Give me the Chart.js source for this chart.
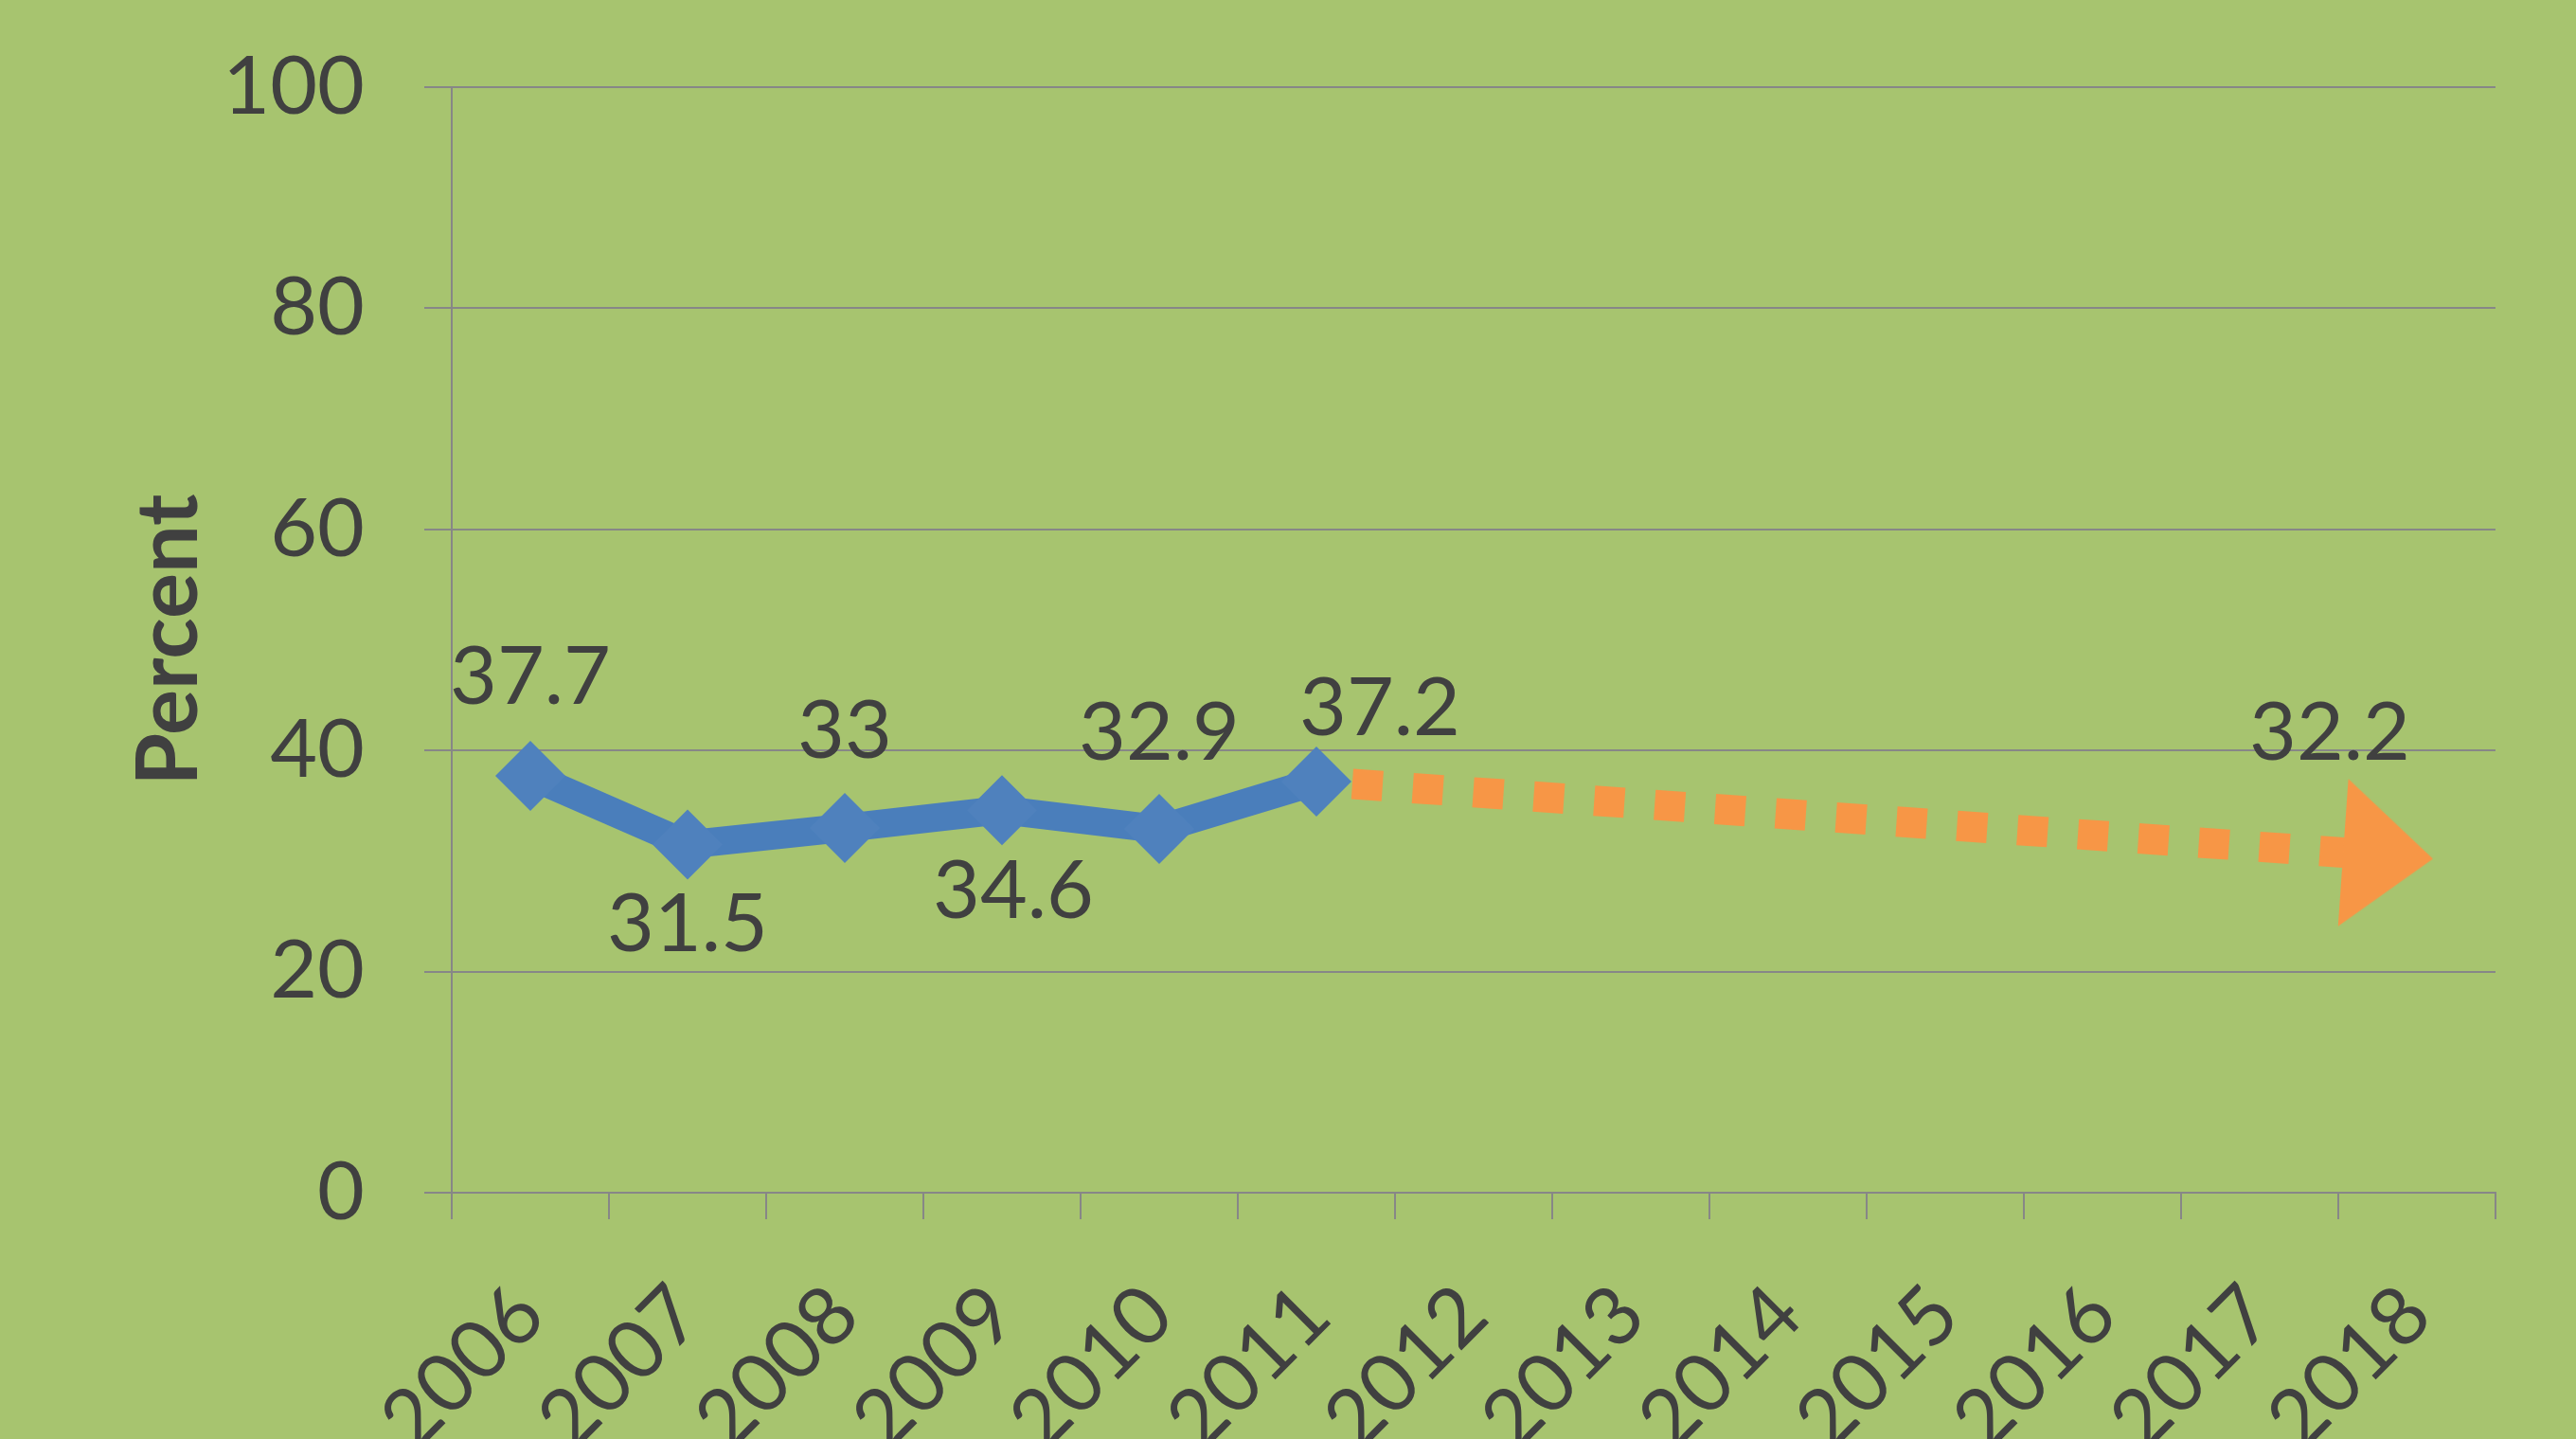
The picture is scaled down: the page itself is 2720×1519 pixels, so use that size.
<!DOCTYPE html>
<html>
<head>
<meta charset="utf-8">
<script src="https://cdn.jsdelivr.net/npm/chart.js@4.4.1/dist/chart.umd.min.js"></script>
<style>
  html, body { margin: 0; padding: 0; background: #a7c46f; }
  canvas { display: block; }
</style>
</head>
<body>
<canvas id="chart" width="2720" height="1519"></canvas>
<script>
const years = ['2006', '2007', '2008', '2009', '2010', '2011', '2012', '2013', '2014', '2015', '2016', '2017', '2018'];
const actual = [37.7, 31.5, 33, 34.6, 32.9, 37.2, null, null, null, null, null, null, null];
const projected = [null, null, null, null, null, 37.2, null, null, null, null, null, null, 30.3];
const actualLabels = ['37.7', '31.5', '33', '34.6', '32.9', '37.2'];
const projectedLabel = '32.2';
const yTicks = [0, 20, 40, 60, 80, 100];

const textColor = '#404040';
const gridColor = '#878787';
const fontFamily = 'Lato, "Open Sans", sans-serif';

// label offsets from each point, in px (like the hand-placed labels in the original)
const actualOffsets = [[0, -104], [0, 85], [0, -102], [12, 86], [0, -101], [67, -77]];
const projectedOffset = [-92, -131];

// arrow head for the end of the projection
function makeArrow() {
  const c = document.createElement('canvas');
  c.width = 200;
  c.height = 200;
  const g = c.getContext('2d');
  g.fillStyle = '#f79646';
  g.beginPath();
  g.moveTo(117, 100);
  g.lineTo(22, 22);
  g.lineTo(22, 178);
  g.closePath();
  g.fill();
  return c;
}
const arrow = makeArrow();
const lastIdx = years.length - 1;

const labelPlugin = {
  id: 'pointLabels',
  afterDatasetsDraw(chart) {
    const ctx = chart.ctx;
    ctx.save();
    ctx.font = '86px ' + fontFamily;
    ctx.fillStyle = textColor;
    ctx.textAlign = 'center';
    ctx.textBaseline = 'middle';
    const m0 = chart.getDatasetMeta(0);
    actualLabels.forEach((t, i) => {
      const p = m0.data[i];
      ctx.fillText(t, p.x + actualOffsets[i][0], p.y + actualOffsets[i][1]);
    });
    const p = chart.getDatasetMeta(1).data[lastIdx];
    ctx.fillText(projectedLabel, p.x + projectedOffset[0], p.y + projectedOffset[1]);
    ctx.restore();
  }
};

new Chart(document.getElementById('chart').getContext('2d'), {
  type: 'line',
  data: {
    labels: years,
    datasets: [
      {
        label: 'Actual',
        data: actual,
        borderColor: '#4a7ebb',
        borderWidth: 30,
        borderJoinStyle: 'miter',
        pointStyle: 'rectRot',
        pointRadius: 37,
        pointBackgroundColor: '#4f81bd',
        pointBorderWidth: 0,
        tension: 0
      },
      {
        label: 'Projected',
        data: projected,
        spanGaps: true,
        borderColor: '#f79646',
        borderWidth: 32,
        borderDash: [32, 32],
        borderDashOffset: 26,
        borderCapStyle: 'butt',
        pointStyle: ctx => ctx.dataIndex === lastIdx ? arrow : 'circle',
        pointRadius: ctx => ctx.dataIndex === lastIdx ? 10 : 0,
        pointRotation: 4,
        pointBorderWidth: 0,
        tension: 0
      }
    ]
  },
  options: {
    responsive: false,
    devicePixelRatio: 1,
    animation: false,
    layout: { padding: { left: 125, right: 85, top: 92, bottom: 0 } },
    plugins: { legend: { display: false }, tooltip: { enabled: false } },
    scales: {
      x: {
        offset: true,
        grid: { display: true, drawOnChartArea: false, drawTicks: true, tickLength: 28, offset: true, color: gridColor, lineWidth: 2 },
        border: { display: true, color: gridColor, width: 2 },
        ticks: { color: textColor, font: { family: fontFamily, size: 86 }, maxRotation: 45, minRotation: 45, autoSkip: false, padding: 50 },
        afterFit(scale) { scale.height = 260; }
      },
      y: {
        min: 0,
        max: 100,
        afterBuildTicks(scale) { scale.ticks = yTicks.map(v => ({ value: v })); },
        grid: { color: gridColor, lineWidth: 2, tickLength: 29, drawTicks: true },
        border: { display: true, color: gridColor, width: 2 },
        ticks: { color: textColor, font: { family: fontFamily, size: 86 }, padding: 63 },
        title: { display: true, text: 'Percent', color: textColor, font: { family: fontFamily, size: 90, weight: 'bold' }, padding: { top: 0, bottom: 8 } },
        afterFit(scale) {
          scale.width = 352;
          scale.paddingTop = 0;
        }
      }
    }
  },
  plugins: [labelPlugin]
});
</script>
</body>
</html>
